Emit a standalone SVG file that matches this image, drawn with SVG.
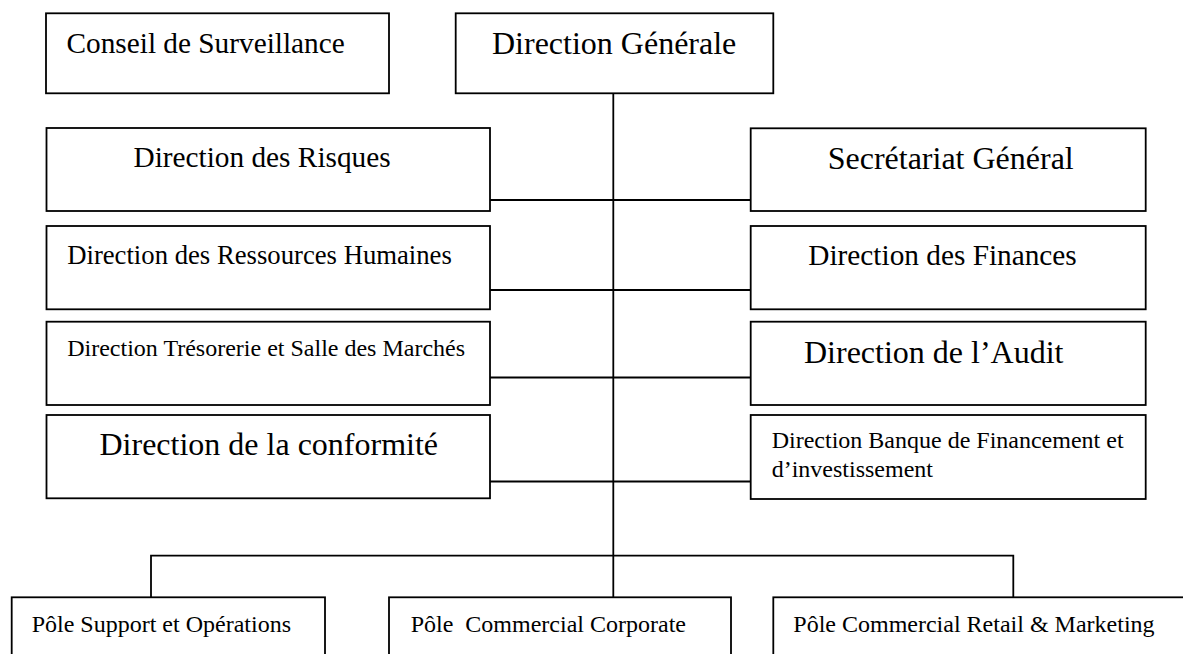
<svg xmlns="http://www.w3.org/2000/svg" width="1183" height="654" viewBox="0 0 1183 654">
<style>
.box{fill:#fff;stroke:#000;stroke-width:1.8}
.ln{fill:none;stroke:#000;stroke-width:1.8}
text{font-family:"Liberation Serif","Times New Roman",serif;fill:#000;white-space:pre}
.f32{font-size:32px}.f29{font-size:29.3px}.f27{font-size:26.7px}.f24{font-size:24px}
</style>
<rect width="1183" height="654" fill="#fff"/>
<g id="connectors">
<path class="ln" d="M613.3 93.3V597.3"/>
<path class="ln" d="M490 200H750.7M490 290H750.7M490 377.5H750.7M490 481.5H750.7"/>
<path class="ln" d="M151 597.3V555.7H1013.3V597.3"/>
</g>
<g id="conseil"><rect class="box" x="46" y="13.3" width="343" height="80"/><text class="f29" x="66.5" y="53.3">Conseil de Surveillance</text></g>
<g id="dg"><rect class="box" x="455.7" y="13.3" width="317.6" height="80"/><text class="f32" x="492" y="54">Direction Générale</text></g>
<g id="risques"><rect class="box" x="46.5" y="128" width="443.5" height="83"/><text class="f29" x="133.5" y="166.7">Direction des Risques</text></g>
<g id="secretariat"><rect class="box" x="750.7" y="128.3" width="395" height="82.7"/><text class="f32" x="827.7" y="169.3">Secrétariat Général</text></g>
<g id="rh"><rect class="box" x="46.5" y="226" width="443.5" height="83.3"/><text class="f27" x="67.2" y="264">Direction des Ressources Humaines</text></g>
<g id="finances"><rect class="box" x="750.7" y="226" width="395" height="83.3"/><text class="f29" x="808.3" y="265">Direction des Finances</text></g>
<g id="tresorerie"><rect class="box" x="46.5" y="321.7" width="443.5" height="83.3"/><text class="f24" x="67.2" y="355.7">Direction Trésorerie et Salle des Marchés</text></g>
<g id="audit"><rect class="box" x="750.7" y="321.7" width="395" height="83.3"/><text class="f32" x="804" y="363.3">Direction de l’Audit</text></g>
<g id="conformite"><rect class="box" x="46.5" y="415" width="443.5" height="83.3"/><text class="f32" x="99.5" y="455">Direction de la conformité</text></g>
<g id="bfi"><rect class="box" x="750.7" y="415" width="395" height="84"/><text class="f24" x="771.7" y="448.3">Direction Banque de Financement et</text><text class="f24" x="771.7" y="476.7">d’investissement</text></g>
<g id="pole-support"><rect class="box" x="11.7" y="597.3" width="313.3" height="70"/><text class="f24" x="31.7" y="631.7">Pôle Support et Opérations</text></g>
<g id="pole-corporate"><rect class="box" x="389" y="597.3" width="342" height="70"/><text class="f24" x="410.7" y="631.7">Pôle  Commercial Corporate</text></g>
<g id="pole-retail"><rect class="box" x="773.3" y="597.3" width="420" height="70"/><text class="f24" x="793.3" y="631.7">Pôle Commercial Retail &amp; Marketing</text></g>
</svg>
